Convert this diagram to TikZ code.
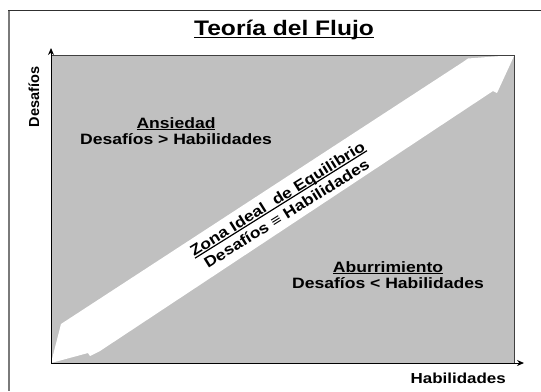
\documentclass[tikz,border=0pt]{standalone}
\usepackage{fontspec}
\setmainfont{Liberation Sans}[FakeStretch=1.17]
\newfontfamily\plainsans{Liberation Sans}
\usetikzlibrary{arrows.meta}
\newsavebox\ulbox
\newcommand\ulx[1]{\sbox\ulbox{#1}\rlap{\usebox\ulbox}\rule[-0.14em]{\wd\ulbox}{0.08em}}
\definecolor{silverfill}{HTML}{C0C0C0}
\definecolor{rectedge}{HTML}{404040}
\definecolor{frametop}{HTML}{303030}
\definecolor{frameleft}{HTML}{7A7A7A}
\begin{document}
\begin{tikzpicture}[x=1bp,y=-1bp,
  txt/.style={font=\bfseries\fontsize{15bp}{16bp}\selectfont, align=center, inner sep=0pt},
  titletxt/.style={font=\bfseries\fontsize{21bp}{24bp}\selectfont, inner sep=0pt},
  axislbl/.style={font=\bfseries\fontsize{14.5bp}{16bp}\selectfont, inner sep=0pt},
  axisline/.style={draw=black, line width=1bp, -{Stealth[length=7bp,width=6bp]}},
  framel/.style={draw=frameleft, line width=2bp},
  framet/.style={draw=frametop, line width=1bp}]
\useasboundingbox (0,0) rectangle (541,391);
\fill[white] (0,0) rectangle (541,391);
% outer frame
\draw[framel] (9,10) -- (9,391);
\draw[framet] (8,10) -- (541,10);
% title
\node[titletxt] (title) at (284,30) {\ulx{Teoría del Flujo}};
% plot area
\fill[silverfill] (51,55) rectangle (514.5,363);
% diagonal white arrow
\fill[white] (51,363) -- (61,324) -- (463,62) -- (468,58.5) -- (514.5,55)
  -- (497,93) -- (493,91) -- (100,351) -- (90,356) -- (88,353) -- cycle;
\draw[draw=rectedge, line width=1bp] (51,55) -- (514.5,55) -- (514.5,363);
% axes
\coordinate (O) at (51,363);
\coordinate (ytip) at (51,48);
\coordinate (xtip) at (524,363);
\draw[axisline] (O) -- (ytip);
\draw[axisline] (O) -- (xtip);
% axis labels
\node[font=\plainsans\bfseries\fontsize{14.5bp}{16bp}\selectfont, inner sep=0pt, rotate=90] (ylab) at (34,97) {Desafíos};
\node[axislbl, anchor=base east] (xlab) at (506,383) {Habilidades};
% region labels
\node[txt] (ans) at (176,131) {\ulx{Ansiedad}\\Desafíos > Habilidades};
\node[txt] (abu) at (388,275) {\ulx{Aburrimiento}\\Desafíos < Habilidades};
\node[txt, rotate=32] (zona) at (282,206) {\ulx{Zona Ideal\ \ de Equilibrio}\\[1.5bp]Desafíos ≡ Habilidades};
\end{tikzpicture}
\end{document}
